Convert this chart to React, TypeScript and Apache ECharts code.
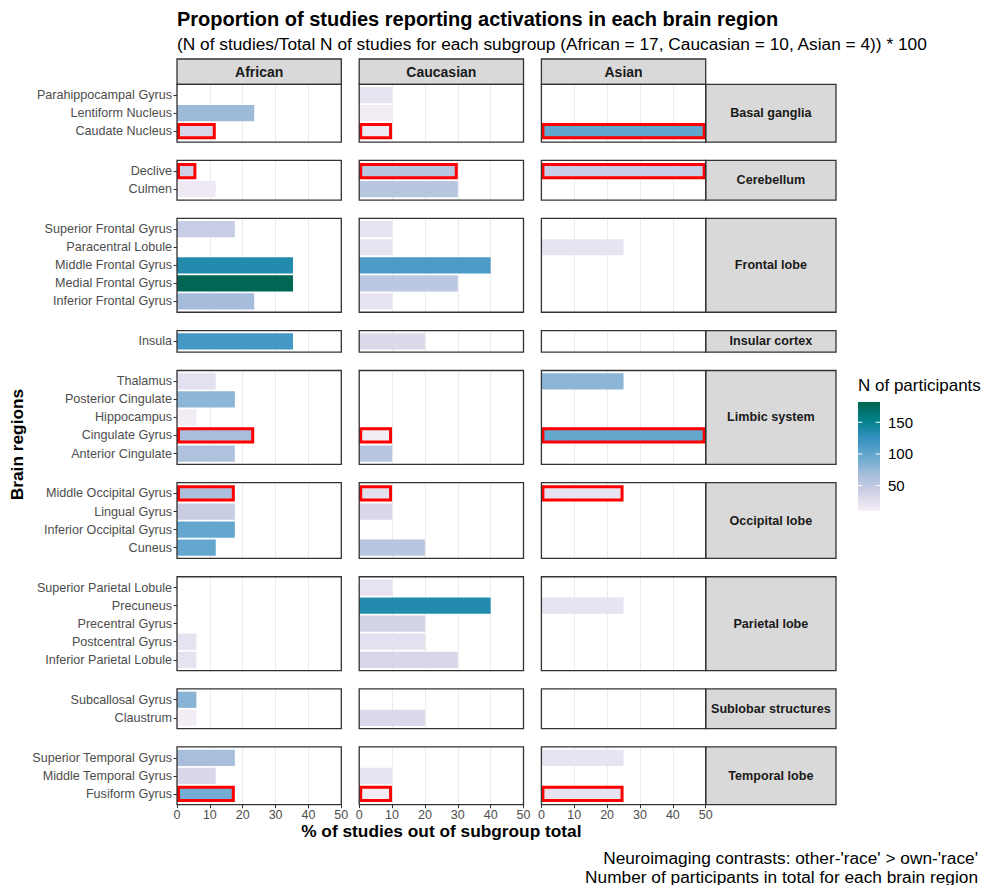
import React, { useEffect, useRef } from "react";
import * as echarts from "echarts";

// ---------------- DATA ----------------
const subgroups = ["African", "Caucasian", "Asian"];

const regions = [
  "Basal ganglia",
  "Cerebellum",
  "Frontal lobe",
  "Insular cortex",
  "Limbic system",
  "Occipital lobe",
  "Parietal lobe",
  "Sublobar structures",
  "Temporal lobe",
];

const basalGanglia = ["Parahippocampal Gyrus", "Lentiform Nucleus", "Caudate Nucleus"];
const cerebellum = ["Declive", "Culmen"];
const frontalLobe = [
  "Superior Frontal Gyrus",
  "Paracentral Lobule",
  "Middle Frontal Gyrus",
  "Medial Frontal Gyrus",
  "Inferior Frontal Gyrus",
];
const insularCortex = ["Insula"];
const limbicSystem = ["Thalamus", "Posterior Cingulate", "Hippocampus", "Cingulate Gyrus", "Anterior Cingulate"];
const occipitalLobe = ["Middle Occipital Gyrus", "Lingual Gyrus", "Inferior Occipital Gyrus", "Cuneus"];
const parietalLobe = [
  "Superior Parietal Lobule",
  "Precuneus",
  "Precentral Gyrus",
  "Postcentral Gyrus",
  "Inferior Parietal Lobule",
];
const sublobar = ["Subcallosal Gyrus", "Claustrum"];
const temporalLobe = ["Superior Temporal Gyrus", "Middle Temporal Gyrus", "Fusiform Gyrus"];

const regionAreas = [
  basalGanglia,
  cerebellum,
  frontalLobe,
  insularCortex,
  limbicSystem,
  occipitalLobe,
  parietalLobe,
  sublobar,
  temporalLobe,
];

// % of studies (in the order of the areas above, all regions concatenated); 0 = no bar
const africanPct = [
  0, 23.5, 11.8,
  5.9, 11.8,
  17.6, 0, 35.3, 35.3, 23.5,
  35.3,
  11.8, 17.6, 5.9, 23.5, 17.6,
  17.6, 17.6, 17.6, 11.8,
  0, 0, 0, 5.9, 5.9,
  5.9, 5.9,
  17.6, 11.8, 17.6,
];
const caucasianPct = [
  10, 10, 10,
  30, 30,
  10, 10, 40, 30, 10,
  20,
  0, 0, 0, 10, 10,
  10, 10, 0, 20,
  10, 40, 20, 20, 30,
  0, 20,
  0, 10, 10,
];
const asianPct = [
  0, 0, 50,
  50, 0,
  0, 25, 0, 0, 0,
  0,
  25, 0, 0, 50, 0,
  25, 0, 0, 0,
  0, 25, 0, 0, 0,
  0, 0,
  25, 0, 25,
];

// N of participants (fill colour)
const africanN = [
  0, 71, 33,
  39, 16,
  45, 0, 135, 180, 68,
  116,
  24, 79, 13, 66, 62,
  63, 44, 98, 98,
  0, 0, 0, 22, 22,
  80, 13,
  66, 32, 90,
];
const caucasianN = [
  21, 13, 16,
  55, 55,
  21, 21, 112, 52, 21,
  30,
  0, 0, 0, 13, 55,
  24, 32, 0, 55,
  22, 135, 36, 24, 33,
  0, 30,
  0, 22, 13,
];
const asianN = [
  0, 0, 100,
  45, 0,
  0, 21, 0, 0, 0,
  0,
  79, 0, 0, 97, 0,
  21, 0, 0, 0,
  0, 21, 0, 0, 0,
  0, 0,
  21, 0, 21,
];

// areas outlined in red
const highlighted = ["Caudate Nucleus", "Declive", "Cingulate Gyrus", "Middle Occipital Gyrus", "Fusiform Gyrus"];

const xMin = 0;
const xMax = 50;
const xInterval = 10;
const nMin = 10;
const nMax = 182;
const legendTicks = [50, 100, 150];
const palette = ["#f6eff7", "#d0d1e6", "#a6bddb", "#67a9cf", "#3690c0", "#02818a", "#016450"];

const titleText = "Proportion of studies reporting activations in each brain region";
const subtitleText =
  "(N of studies/Total N of studies for each subgroup (African = 17, Caucasian = 10, Asian = 4)) * 100";
const xTitle = "% of studies out of subgroup total";
const yTitle = "Brain regions";
const legendTitle = "N of participants";
const captionLines = [
  "Neuroimaging contrasts: other-'race' > own-'race'",
  "Number of participants in total for each brain region",
];

// ---------------- LAYOUT ----------------
const FONT = '"Liberation Sans", Arial, Helvetica, sans-serif';
const COL_LEFT = [177, 359.2, 541.4];
const COL_W = 164.3;
const PANEL_TOP = 84.3;
const UNIT = 18.05;
const PAD = 0.1;
const GAP = 18.3;
const STRIP_TOP = 59;
const STRIP_X = 705.7;
const STRIP_W = 130.3;
const LEG_X = 858;
const LEG_Y = 402;
const LEG_W = 22;
const LEG_H = 109;

export default function App() {
  const ref = useRef<HTMLDivElement>(null);

  useEffect(() => {
    const chart = echarts.init(ref.current!, null, { renderer: "svg" });
    const allPct = [africanPct, caucasianPct, asianPct];
    const allN = [africanN, caucasianN, asianN];

    const grid: any[] = [];
    const xAxis: any[] = [];
    const yAxis: any[] = [];
    const series: any[] = [];
    const graphic: any[] = [];

    const tops: number[] = [];
    const heights: number[] = [];
    let y = PANEL_TOP;
    regionAreas.forEach((a) => {
      tops.push(y);
      const h = (a.length + 2 * PAD) * UNIT;
      heights.push(h);
      y += h + GAP;
    });
    let acc = 0;
    const starts = regionAreas.map((a) => {
      const s = acc;
      acc += a.length;
      return s;
    });
    const lastRow = regions.length - 1;

    regions.forEach((reg, r) => {
      const areas = regionAreas[r];
      subgroups.forEach((sg, c) => {
        // background grid: full panel, vertical grid lines and bottom axis
        const gi = grid.length;
        grid.push({ left: COL_LEFT[c], top: tops[r], width: COL_W, height: heights[r], show: false });
        xAxis.push({
          gridIndex: gi,
          type: "value",
          min: xMin,
          max: xMax,
          interval: xInterval,
          axisLine: { show: false },
          axisTick: { show: r === lastRow, length: 3.5, lineStyle: { color: "#333333", width: 1 } },
          axisLabel: {
            show: r === lastRow,
            fontSize: 12.5,
            color: "#4d4d4d",
            margin: 4,
            fontFamily: FONT,
          },
          splitLine: { show: true, lineStyle: { color: "#ebebeb", width: 1 } },
        });
        yAxis.push({ gridIndex: gi, type: "value", min: 0, max: 1, show: false });

        // inner grid: the category bands
        const gj = grid.length;
        grid.push({
          left: COL_LEFT[c],
          top: tops[r] + PAD * UNIT,
          width: COL_W,
          height: areas.length * UNIT,
          show: false,
        });
        xAxis.push({ gridIndex: gj, type: "value", min: xMin, max: xMax, show: false });
        yAxis.push({
          gridIndex: gj,
          type: "category",
          data: areas,
          inverse: true,
          axisLine: { show: false },
          axisTick: {
            show: c === 0,
            alignWithLabel: true,
            length: 3.5,
            lineStyle: { color: "#333333", width: 1 },
          },
          axisLabel: {
            show: c === 0,
            fontSize: 12.6,
            color: "#4d4d4d",
            margin: 5,
            fontFamily: FONT,
          },
          splitLine: { show: false },
        });

        const data: any[] = [];
        areas.forEach((name, i) => {
          const v = allPct[c][starts[r] + i];
          if (v > 0) {
            data.push({
              value: [v, i, allN[c][starts[r] + i]],
              itemStyle: highlighted.includes(name)
                ? { borderColor: "#ff0000", borderWidth: 3 }
                : { borderWidth: 0 },
            });
          }
        });
        series.push({
          type: "bar",
          xAxisIndex: gj,
          yAxisIndex: gj,
          data,
          encode: { x: 0, y: 1 },
          barCategoryGap: "10%",
          silent: true,
        });

        // panel border on top
        graphic.push({
          type: "rect",
          shape: { x: COL_LEFT[c], y: tops[r], width: COL_W, height: heights[r] },
          style: { fill: "none", stroke: "#333333", lineWidth: 1.3 },
          z: 100,
          silent: true,
        });
      });

      // right strip
      graphic.push({
        type: "rect",
        shape: { x: STRIP_X, y: tops[r], width: STRIP_W, height: heights[r] },
        style: { fill: "#d9d9d9", stroke: "#333333", lineWidth: 1.3 },
        z: 90,
        silent: true,
      });
      graphic.push({
        type: "text",
        x: STRIP_X + STRIP_W / 2,
        y: tops[r] + heights[r] / 2,
        style: {
          text: reg,
          align: "center",
          verticalAlign: "middle",
          font: `bold 12.6px ${FONT}`,
          fill: "#1a1a1a",
        },
        z: 101,
        silent: true,
      });
    });

    // top strips
    subgroups.forEach((sg, c) => {
      graphic.push({
        type: "rect",
        shape: { x: COL_LEFT[c], y: STRIP_TOP, width: COL_W, height: PANEL_TOP - STRIP_TOP },
        style: { fill: "#d9d9d9", stroke: "#333333", lineWidth: 1.3 },
        z: 90,
        silent: true,
      });
      graphic.push({
        type: "text",
        x: COL_LEFT[c] + COL_W / 2,
        y: (STRIP_TOP + PANEL_TOP) / 2 + 0.5,
        style: {
          text: sg,
          align: "center",
          verticalAlign: "middle",
          font: `bold 14px ${FONT}`,
          fill: "#1a1a1a",
        },
        z: 101,
        silent: true,
      });
    });

    // titles
    graphic.push({
      type: "text",
      x: 177,
      y: 19,
      style: { text: titleText, verticalAlign: "middle", font: `bold 20px ${FONT}`, fill: "#000" },
      silent: true,
    });
    graphic.push({
      type: "text",
      x: 177,
      y: 44,
      style: { text: subtitleText, verticalAlign: "middle", font: `17.3px ${FONT}`, fill: "#000" },
      silent: true,
    });
    graphic.push({
      type: "text",
      x: (COL_LEFT[0] + COL_LEFT[2] + COL_W) / 2,
      y: 831,
      style: { text: xTitle, align: "center", verticalAlign: "middle", font: `bold 17.3px ${FONT}`, fill: "#000" },
      silent: true,
    });
    const panelsBottom = tops[lastRow] + heights[lastRow];
    graphic.push({
      type: "text",
      x: 17,
      y: (PANEL_TOP + panelsBottom) / 2,
      rotation: Math.PI / 2,
      style: { text: yTitle, align: "center", verticalAlign: "middle", font: `bold 17.3px ${FONT}`, fill: "#000" },
      silent: true,
    });
    captionLines.forEach((t, i) => {
      graphic.push({
        type: "text",
        x: 978,
        y: 858 + i * 18.5,
        style: { text: t, align: "right", verticalAlign: "middle", font: `17.3px ${FONT}`, fill: "#000" },
        silent: true,
      });
    });

    // legend (colour bar)
    graphic.push({
      type: "text",
      x: LEG_X,
      y: 385,
      style: { text: legendTitle, verticalAlign: "middle", font: `17px ${FONT}`, fill: "#000" },
      silent: true,
    });
    graphic.push({
      type: "rect",
      shape: { x: LEG_X, y: LEG_Y, width: LEG_W, height: LEG_H },
      style: {
        fill: new echarts.graphic.LinearGradient(
          0,
          1,
          0,
          0,
          palette.map((col, i) => ({ offset: i / (palette.length - 1), color: col }))
        ),
      },
      silent: true,
    });
    legendTicks.forEach((v) => {
      const ty = LEG_Y + LEG_H - ((v - nMin) / (nMax - nMin)) * LEG_H;
      graphic.push({
        type: "line",
        shape: { x1: LEG_X, y1: ty, x2: LEG_X + 4.4, y2: ty },
        style: { stroke: "#ffffff", lineWidth: 1 },
        silent: true,
      });
      graphic.push({
        type: "line",
        shape: { x1: LEG_X + LEG_W - 4.4, y1: ty, x2: LEG_X + LEG_W, y2: ty },
        style: { stroke: "#ffffff", lineWidth: 1 },
        silent: true,
      });
      graphic.push({
        type: "text",
        x: LEG_X + LEG_W + 8,
        y: ty,
        style: { text: String(v), verticalAlign: "middle", font: `15px ${FONT}`, fill: "#000" },
        silent: true,
      });
    });

    chart.setOption({
      animation: false,
      backgroundColor: "#ffffff",
      textStyle: { fontFamily: FONT },
      grid,
      xAxis,
      yAxis,
      series,
      visualMap: {
        type: "continuous",
        show: false,
        min: nMin,
        max: nMax,
        dimension: 2,
        seriesIndex: series.map((_, i) => i),
        inRange: { color: palette },
      },
      graphic,
    });

    return () => chart.dispose();
  }, []);

  return (
    <div
      ref={ref}
      style={{ position: "absolute", left: 0, top: 0, width: 991, height: 885, background: "#fff" }}
    />
  );
}
